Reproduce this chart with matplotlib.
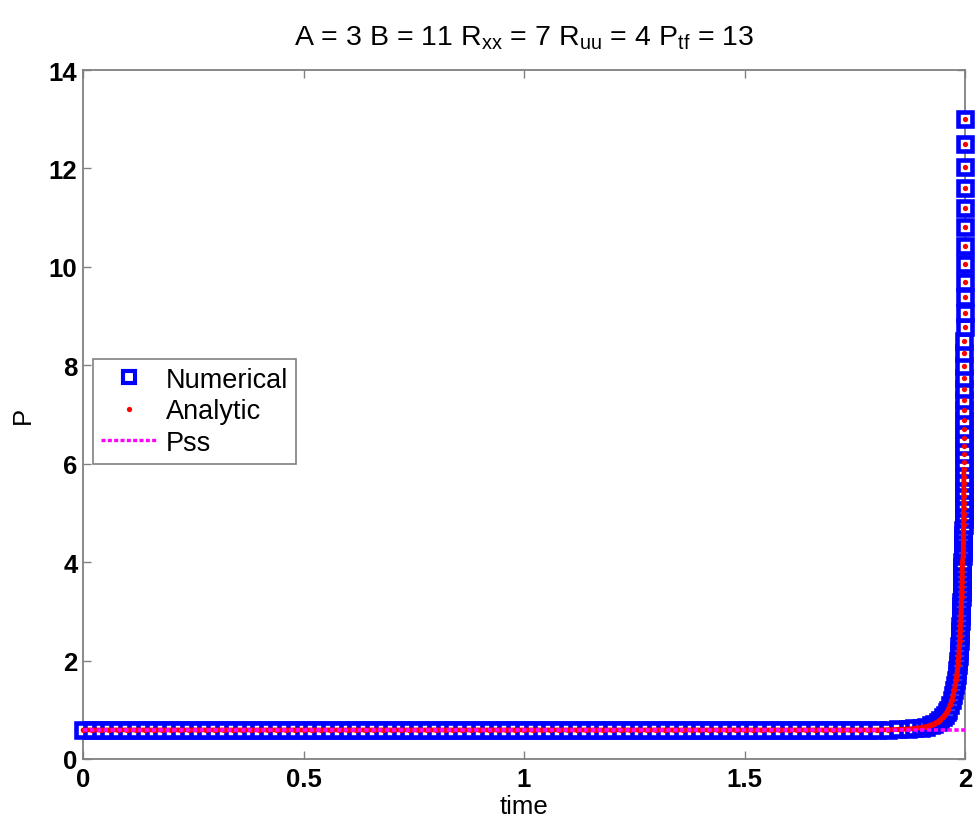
import matplotlib
matplotlib.use("Agg")
import matplotlib.pyplot as plt
from matplotlib.lines import Line2D

# ---------------- data ----------------
# flat part of the solution (steady state region)
t_flat = [0.00, 0.02, 0.04, 0.06, 0.08, 0.10, 0.12, 0.14, 0.16, 0.18,
          0.20, 0.22, 0.24, 0.26, 0.28, 0.30, 0.32, 0.34, 0.36, 0.38,
          0.40, 0.42, 0.44, 0.46, 0.48, 0.50, 0.52, 0.54, 0.56, 0.58,
          0.60, 0.62, 0.64, 0.66, 0.68, 0.70, 0.72, 0.74, 0.76, 0.78,
          0.80, 0.82, 0.84, 0.86, 0.88, 0.90, 0.92, 0.94, 0.96, 0.98,
          1.00, 1.02, 1.04, 1.06, 1.08, 1.10, 1.12, 1.14, 1.16, 1.18,
          1.20, 1.22, 1.24, 1.26, 1.28, 1.30, 1.32, 1.34, 1.36, 1.38,
          1.40, 1.42, 1.44, 1.46, 1.48, 1.50, 1.52, 1.54, 1.56, 1.58,
          1.60, 1.62, 1.64, 1.66, 1.68, 1.70, 1.72, 1.74, 1.76, 1.78,
          1.80]
p_flat = [0.59] * len(t_flat)

# knee and steep rise
t_rise = [1.8246, 1.8478, 1.8708, 1.8841, 1.9006, 1.9113, 1.9224, 1.9303,
          1.9381, 1.9441, 1.9499, 1.9545, 1.9583, 1.9614, 1.9664, 1.9703,
          1.9733, 1.9758, 1.9779, 1.9797, 1.9812, 1.9826, 1.9837, 1.9848,
          1.9857, 1.9865, 1.9873, 1.9880, 1.9886, 1.9892, 1.9897, 1.9902,
          1.9906, 1.9911, 1.9914, 1.9918, 1.9922, 1.9925, 1.9928, 1.9931,
          1.9933, 1.9936, 1.9938, 1.9940]
p_rise = [0.595, 0.600, 0.610, 0.620, 0.640, 0.660, 0.690, 0.720,
          0.760, 0.800, 0.850, 0.900, 0.950, 1.000, 1.100, 1.200,
          1.300, 1.400, 1.500, 1.600, 1.700, 1.800, 1.900, 2.000,
          2.100, 2.200, 2.300, 2.400, 2.500, 2.600, 2.700, 2.800,
          2.900, 3.000, 3.100, 3.200, 3.300, 3.400, 3.500, 3.600,
          3.700, 3.800, 3.900, 4.000]

# last steps before the final time (discrete markers visible)
t_top = [1.9959, 1.9960, 1.9961, 1.9962, 1.9963, 1.9964, 1.9965, 1.9966,
         1.9967, 1.9968, 1.9969, 1.9970, 1.9971, 1.9972, 1.9973, 1.9974,
         1.9975, 1.9976, 1.9977, 1.9978, 1.9979, 1.9980, 1.9981, 1.9982,
         1.9983, 1.9984, 1.9985, 1.9986, 1.9987, 1.9988, 1.9989, 1.9990,
         1.9991, 1.9992, 1.9993, 1.9994, 1.9995, 1.9996, 1.9997, 1.9998,
         1.9999, 2.0000]
p_top = [4.12, 4.20, 4.29, 4.38, 4.47, 4.56, 4.66, 4.76, 4.87, 4.98,
         5.09, 5.21, 5.34, 5.47, 5.60, 5.74, 5.89, 6.04, 6.19, 6.35,
         6.52, 6.70, 6.89, 7.09, 7.30, 7.52, 7.75, 7.99, 8.24, 8.50,
         8.77, 9.07, 9.38, 9.70, 10.06, 10.43, 10.80, 11.20, 11.60, 12.03,
         12.50, 13.00]

t_numerical = t_flat + t_rise + t_top
p_numerical = p_flat + p_rise + p_top
t_analytic = t_numerical
p_analytic = p_numerical

p_ss = 0.59
t_ss = [0.0, 2.0]

x_ticks = [0, 0.5, 1, 1.5, 2]
x_ticklabels = ["0", "0.5", "1", "1.5", "2"]
y_ticks = [0, 2, 4, 6, 8, 10, 12, 14]
y_ticklabels = ["0", "2", "4", "6", "8", "10", "12", "14"]

title_text = r"A = 3 B = 11 R$_\mathrm{xx}$ = 7 R$_\mathrm{uu}$ = 4 P$_\mathrm{tf}$ = 13"
legend_labels = ["Numerical", "Analytic", "Pss"]

# ---------------- styling ----------------
base_font = "Liberation Sans"
plt.rcParams["font.family"] = [base_font, "DejaVu Sans"]
plt.rcParams["mathtext.fontset"] = "custom"
plt.rcParams["mathtext.rm"] = base_font
plt.rcParams["mathtext.it"] = base_font

BLUE = (0, 0, 1)
RED = (1, 0, 0)
MAG = (1, 0, 1)
GREY = (0.5, 0.5, 0.5)

W, H = 976, 829
fig = plt.figure(figsize=(W / 100, H / 100), dpi=100)
ax = fig.add_axes([83 / W, 1 - 760 / H, (965 - 83) / W, (760 - 71) / H])

ms_sq = 9.7   # points
mew_sq = 3.3

ax.plot(t_numerical, p_numerical, linestyle="none", marker="s", ms=ms_sq,
        mew=mew_sq, mec=BLUE, mfc="white", clip_on=False, zorder=3)

# analytic: dense dots -> draw as dots plus a red trace where they merge
dense = [i for i, p in enumerate(p_analytic) if p < 6.0]
ax.plot([t_analytic[i] for i in dense], [p_analytic[i] for i in dense],
        color=RED, lw=3.4, solid_capstyle="round", clip_on=False, zorder=4)
ax.plot(t_analytic, p_analytic, linestyle="none", marker="o", ms=3.8,
        mec=RED, mfc=RED, mew=0, clip_on=False, zorder=5)

ax.plot(t_ss, [p_ss, p_ss], color=MAG, lw=2.6, dashes=(1.2, 0.7),
        clip_on=False, zorder=6)

ax.set_xlim(0, 2)
ax.set_ylim(0, 14)
ax.set_xticks(x_ticks)
ax.set_xticklabels(x_ticklabels)
ax.set_yticks(y_ticks)
ax.set_yticklabels(y_ticklabels)
for sp in ax.spines.values():
    sp.set_color(GREY)
    sp.set_linewidth(1.3)
ax.tick_params(direction="in", length=6, width=1, color=GREY,
               top=True, right=True, labelsize=18.5)
ax.tick_params(axis="x", pad=6)
ax.tick_params(axis="y", pad=4)
for lab in ax.get_xticklabels() + ax.get_yticklabels():
    lab.set_fontweight("bold")

ax.set_xlabel("time", fontsize=18.5, labelpad=2)
ax.set_ylabel("P", fontsize=18.5, labelpad=10)
ax.set_title(title_text, fontsize=20.5, pad=18)

handles = [
    Line2D([], [], linestyle="none", marker="s", ms=ms_sq * 0.9, mew=mew_sq * 0.9,
           mec=BLUE, mfc="white"),
    Line2D([], [], linestyle="none", marker="o", ms=3.8, mec=RED, mfc=RED, mew=0),
    Line2D([], [], color=MAG, lw=2.4, dashes=(1.2, 0.7)),
]
leg = ax.legend(handles, legend_labels, loc="upper left",
                bbox_to_anchor=(0.011, 0.581), borderaxespad=0,
                fontsize=19.5, handlelength=2.1, handletextpad=0.3,
                labelspacing=0.2, borderpad=0.3, fancybox=False,
                framealpha=1, edgecolor=GREY)
leg.get_frame().set_linewidth(1.2)

fig.savefig("out.png", dpi=100)
